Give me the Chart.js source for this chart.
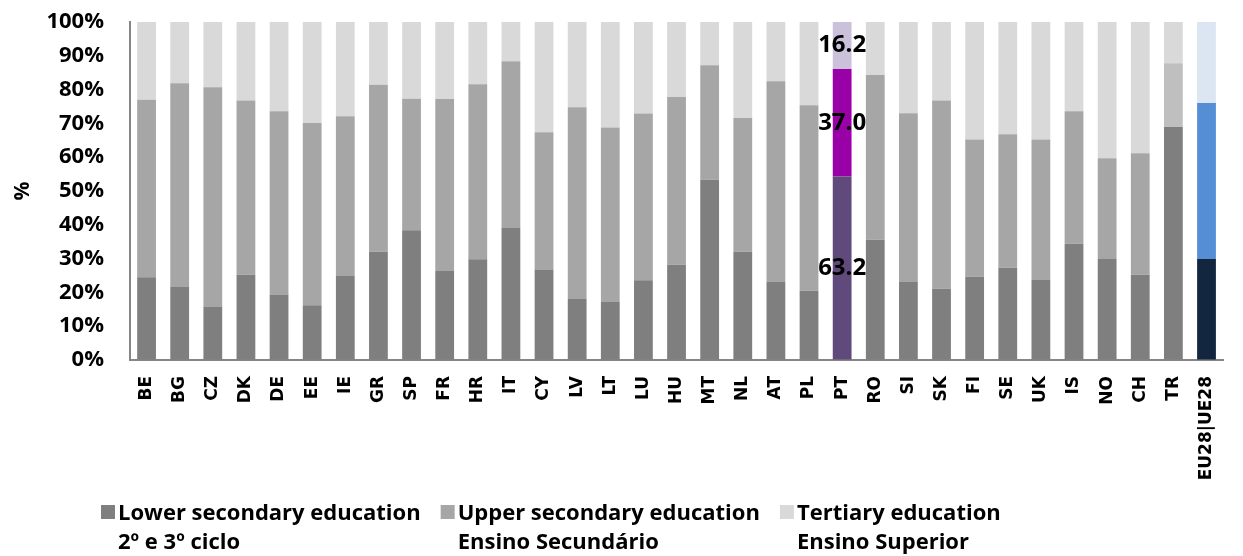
<!DOCTYPE html>
<html>
<head>
<meta charset="utf-8">
<script src="https://cdn.jsdelivr.net/npm/chart.js@4.4.1/dist/chart.umd.min.js"></script>
<style>
html,body{margin:0;padding:0;background:#fff;}
#wrap{position:relative;width:1243px;height:556px;}
</style>
</head>
<body>
<div id="wrap"><canvas id="c" width="1243" height="556"></canvas></div>
<script>
const categories = ['BE','BG','CZ','DK','DE','EE','IE','GR','SP','FR','HR','IT','CY','LV','LT','LU','HU','MT','NL','AT','PL','PT','RO','SI','SK','FI','SE','UK','IS','NO','CH','TR','EU28|UE28'];
const lowerSecondary = [24.5,21.6,15.8,25.2,19.4,16.2,25.0,32.0,38.4,26.3,29.8,39.2,26.8,18.2,17.3,23.6,28.2,53.3,32.0,23.1,20.5,63.2,35.6,23.1,21.1,24.6,27.3,23.8,34.4,29.9,25.2,68.9,29.9];
const upperSecondary = [52.5,60.3,64.9,51.6,54.2,53.9,47.1,49.4,38.9,50.9,51.8,49.2,40.6,56.6,51.5,49.3,49.6,33.9,39.6,59.4,54.9,37.0,48.7,49.9,55.7,40.6,39.5,41.4,39.2,29.8,36.0,18.9,46.1];
const tertiary = [23.0,18.1,19.3,23.2,26.4,29.9,27.9,18.6,22.7,22.8,18.4,11.6,32.6,25.2,31.2,27.1,22.2,12.8,28.4,17.5,24.6,16.2,15.7,27.0,23.2,34.8,33.2,34.8,26.4,40.3,38.8,12.2,24.0];
const seriesNames = ['Lower secondary education','Upper secondary education','Tertiary education'];
const seriesNamesPT = ['2º e 3º ciclo','Ensino Secundário','Ensino Superior'];
const yTicks = [0,10,20,30,40,50,60,70,80,90,100];
const labelledCategory = 'PT';

const baseColors = ['#7f7f7f','#a6a6a6','#d9d9d9'];
const ptColors = ['#604a7b','#9900a8','#ccc1da'];
const euColors = ['#12263f','#558ed5','#dce6f2'];
const trUpperColor = '#bfbfbf';

const raw = [lowerSecondary, upperSecondary, tertiary];
const totals = categories.map((_, i) => raw[0][i] + raw[1][i] + raw[2][i]);
const shares = raw.map(arr => arr.map((v, i) => v / totals[i] * 100));

function colorsFor(s) {
  return categories.map(c => {
    if (c === 'PT') return ptColors[s];
    if (c.startsWith('EU28')) return euColors[s];
    if (c === 'TR' && s === 1) return trUpperColor;
    return baseColors[s];
  });
}

const FONT = '"Open Sans", "DejaVu Sans", sans-serif';

const ptLabelPlugin = {
  id: 'ptLabels',
  afterDatasetsDraw(chart) {
    const idx = categories.indexOf(labelledCategory);
    const ctx = chart.ctx;
    ctx.save();
    ctx.font = 'bold 24px ' + FONT;
    ctx.fillStyle = '#000';
    ctx.textAlign = 'center';
    ctx.textBaseline = 'middle';
    chart.data.datasets.forEach((ds, s) => {
      const el = chart.getDatasetMeta(s).data[idx];
      const y = (el.y + el.base) / 2;
      ctx.fillText(raw[s][idx].toFixed(1), el.x, y);
    });
    ctx.restore();
  }
};

const legendPlugin = {
  id: 'customLegend',
  afterDraw(chart) {
    const ctx = chart.ctx;
    ctx.save();
    ctx.font = 'bold 22px ' + FONT;
    ctx.textBaseline = 'alphabetic';
    ctx.textAlign = 'left';
    let x = 101;
    const boxY = 505, box = 14;
    seriesNames.forEach((name, s) => {
      ctx.fillStyle = baseColors[s];
      ctx.fillRect(x, boxY, box, box);
      const tx = x + box + 3;
      ctx.fillStyle = '#000';
      ctx.fillText(name, tx, 520);
      ctx.fillText(seriesNamesPT[s], tx, 549);
      const w = ctx.measureText(name).width;
      x = tx + w + 20;
    });
    ctx.restore();
  }
};

new Chart(document.getElementById('c'), {
  type: 'bar',
  data: {
    labels: categories,
    datasets: seriesNames.map((name, s) => ({
      label: name,
      data: shares[s],
      backgroundColor: colorsFor(s),
      borderWidth: 0,
      barPercentage: 0.567,
      categoryPercentage: 1.0
    }))
  },
  options: {
    responsive: false,
    animation: false,
    devicePixelRatio: 1,
    layout: { padding: { top: 22, right: 6, bottom: 60, left: 10 } },
    plugins: { legend: { display: false }, tooltip: { enabled: false } },
    scales: {
      x: {
        stacked: true,
        grid: { display: false, drawTicks: false },
        border: { display: true, color: '#868686', width: 2 },
        ticks: {
          color: '#000', autoSkip: false, minRotation: 90, maxRotation: 90, padding: 16,
          font: { family: '"DejaVu Sans", sans-serif', weight: 'bold', size: 17 }
        },
        afterFit(scale) { scale.height = 136; }
      },
      y: {
        stacked: true,
        min: 0, max: 100,
        afterBuildTicks(scale) { scale.ticks = yTicks.map(v => ({ value: v })); },
        grid: { drawOnChartArea: false, drawTicks: true, tickLength: 21, tickColor: 'rgba(0,0,0,0)' },
        border: { display: true, color: '#868686', width: 2 },
        ticks: {
          color: '#000', padding: 5,
          font: { family: FONT, weight: 'bold', size: 22 },
          callback: v => v + '%'
        },
        title: {
          display: true, text: '%', color: '#000', padding: { top: 0, bottom: 0 },
          font: { family: FONT, weight: 'bold', size: 21 }
        },
        afterFit(scale) { scale.width = 120; }
      }
    }
  },
  plugins: [ptLabelPlugin, legendPlugin]
});
</script>
</body>
</html>
